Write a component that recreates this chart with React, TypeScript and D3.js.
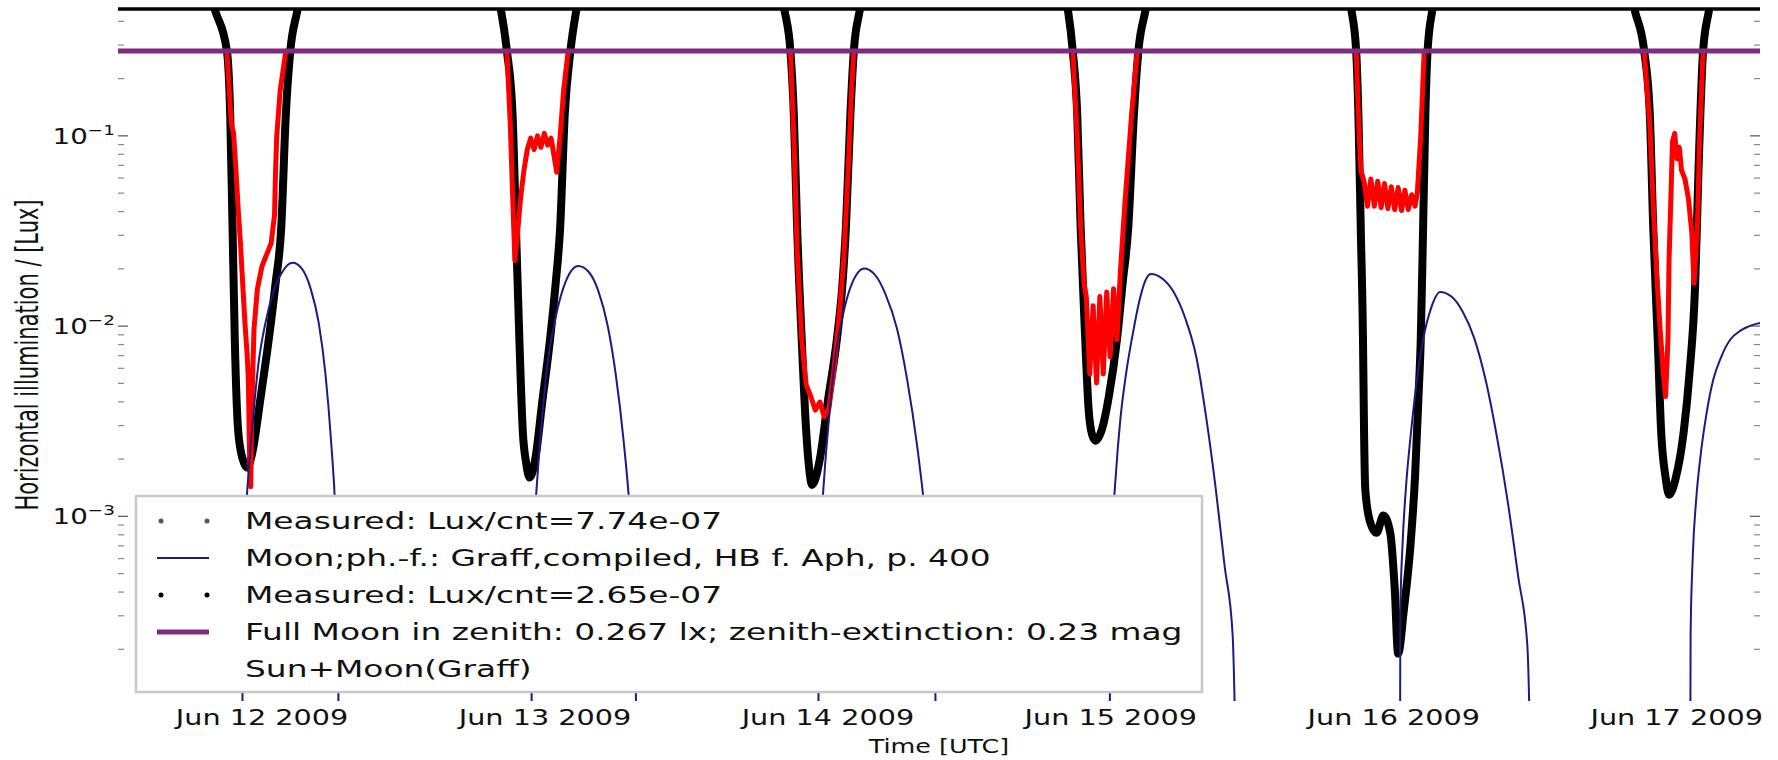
import React from 'react';
import * as d3 from 'd3';

// hours after 2009-06-12 00:00 UTC, horizontal illumination in lux
const T0 = Date.UTC(2009, 5, 12);

// black band: measured Lux/cnt=2.65e-07, one array per night
const blackNights = [
  [[-4.62, 0.6], [-3.95, 0.45], [-2.98, 0.28], [-2.7, 0.13], [-2.5, 0.033], [-2.31, 0.0085], [-2.02, 0.0028], [-1.64, 0.002], [-1.25, 0.0018], [-0.87, 0.0021], [-0.1, 0.0043], [0.57, 0.0085], [1.15, 0.0168], [1.63, 0.033], [2.02, 0.13], [2.4, 0.28], [2.98, 0.45], [3.36, 0.6]],
  [[19.81, 0.6], [20.29, 0.45], [20.77, 0.28], [21.25, 0.13], [21.54, 0.033], [21.83, 0.0085], [22.12, 0.0028], [22.41, 0.0019], [22.7, 0.0016], [23.18, 0.002], [23.75, 0.0039], [24.43, 0.0085], [24.91, 0.0168], [25.29, 0.033], [25.68, 0.13], [26.16, 0.28], [26.64, 0.45], [27.02, 0.6]],
  [[43.86, 0.6], [44.34, 0.45], [44.82, 0.28], [45.11, 0.13], [45.39, 0.033], [45.78, 0.0085], [46.16, 0.0028], [46.45, 0.0017], [46.65, 0.00146], [47.32, 0.002], [47.99, 0.004], [48.76, 0.0085], [49.24, 0.0168], [49.53, 0.033], [49.91, 0.13], [50.2, 0.28], [50.68, 0.45], [51.07, 0.6]],
  [[67.9, 0.6], [68.38, 0.45], [68.77, 0.28], [69.15, 0.13], [69.44, 0.033], [69.83, 0.0085], [70.11, 0.0037], [70.4, 0.0027], [70.69, 0.0025], [71.27, 0.0029], [71.84, 0.0043], [72.52, 0.0085], [73.0, 0.0168], [73.48, 0.033], [73.96, 0.13], [74.34, 0.28], [74.92, 0.45], [75.31, 0.6]],
  [[91.95, 0.6], [92.43, 0.45], [92.81, 0.28], [93.0, 0.13], [93.2, 0.033], [93.39, 0.0085], [93.48, 0.0028], [93.58, 0.0014], [93.96, 0.00095], [94.54, 0.00082], [95.12, 0.00101], [95.7, 0.00082], [96.08, 0.00042], [96.37, 0.00019], [96.85, 0.00032], [97.43, 0.00072], [97.81, 0.00164], [98.1, 0.0043], [98.29, 0.0085], [98.49, 0.033], [98.68, 0.13], [98.87, 0.28], [99.25, 0.45], [99.64, 0.6]],
  [[115.99, 0.6], [116.47, 0.45], [117.24, 0.28], [117.72, 0.13], [118.01, 0.033], [118.39, 0.0085], [118.68, 0.0028], [119.06, 0.0016], [119.35, 0.0013], [119.93, 0.0016], [120.6, 0.0028], [121.08, 0.0056], [121.57, 0.0168], [121.85, 0.066], [122.24, 0.28], [122.72, 0.45], [123.11, 0.6]],
];

// red: measured Lux/cnt=7.74e-07
const redNights = [
  [[-2.98, 0.279], [-2.6, 0.115], [-2.41, 0.103], [-2.21, 0.066], [-2.02, 0.041], [-1.83, 0.0272], [-1.64, 0.0168], [-1.45, 0.0104], [-1.25, 0.0069], [-1.16, 0.00525], [-1.06, 0.00215], [-0.96, 0.00143], [-0.87, 0.0037], [-0.68, 0.0097], [-0.39, 0.0157], [0.0, 0.0207], [0.38, 0.0237], [0.77, 0.0272], [1.06, 0.0383], [1.15, 0.066], [1.25, 0.1], [1.54, 0.173], [2.02, 0.279]],
  [[20.77, 0.279], [21.06, 0.115], [21.25, 0.0503], [21.45, 0.0221], [21.64, 0.0291], [21.93, 0.047], [22.22, 0.066], [22.5, 0.0848], [22.79, 0.0973], [23.08, 0.0848], [23.37, 0.1], [23.66, 0.0871], [23.95, 0.103], [24.23, 0.0895], [24.52, 0.0973], [24.81, 0.0759], [25.0, 0.0644], [25.29, 0.1], [25.58, 0.173], [25.97, 0.279]],
  [[44.82, 0.279], [45.11, 0.1], [45.39, 0.0254], [45.78, 0.0085], [46.16, 0.0049], [46.55, 0.00427], [46.93, 0.00362], [47.32, 0.00399], [47.7, 0.00333], [48.09, 0.0037], [48.47, 0.0056], [48.95, 0.0111], [49.34, 0.0221], [49.72, 0.066], [50.01, 0.173], [50.2, 0.279]],
  [[68.77, 0.279], [69.15, 0.1], [69.44, 0.0334], [69.73, 0.0168], [69.92, 0.0143], [70.21, 0.0056], [70.5, 0.0128], [70.79, 0.00503], [71.07, 0.0143], [71.36, 0.0056], [71.65, 0.0151], [71.94, 0.0069], [72.23, 0.0157], [72.52, 0.0085], [72.81, 0.0193], [73.19, 0.0439], [73.77, 0.131], [74.25, 0.279]],
  [[92.81, 0.279], [93.0, 0.131], [93.2, 0.066], [93.48, 0.0578], [93.77, 0.0427], [94.06, 0.0593], [94.35, 0.0427], [94.64, 0.0578], [94.93, 0.042], [95.21, 0.0562], [95.5, 0.0415], [95.79, 0.054], [96.08, 0.041], [96.37, 0.0535], [96.66, 0.0405], [96.94, 0.0518], [97.23, 0.041], [97.52, 0.049], [97.81, 0.0427], [98.0, 0.0503], [98.29, 0.1], [98.58, 0.279]],
  [[117.24, 0.279], [117.72, 0.115], [118.01, 0.0439], [118.3, 0.0193], [118.59, 0.00972], [118.87, 0.0056], [119.06, 0.00427], [119.26, 0.0085], [119.35, 0.0221], [119.55, 0.0578], [119.64, 0.0933], [119.83, 0.103], [120.03, 0.0759], [120.22, 0.0871], [120.41, 0.066], [120.7, 0.0593], [120.99, 0.047], [121.28, 0.0312], [121.47, 0.0168], [121.76, 0.0334], [121.95, 0.1], [122.24, 0.279]],
];

// navy: Moon, Graff phase function
const moonArcs = [
  [[-1.73, 1e-6], [-1.64, 3.2e-4], [-1.45, 8.2e-4], [-1.16, 1.64e-3], [-0.77, 3.24e-3], [-0.29, 6.44e-3], [0.29, 0.0104], [0.96, 0.0151], [1.73, 0.0193], [2.59, 0.0215], [3.36, 0.0201], [4.13, 0.0157], [4.81, 0.0104], [5.38, 0.0056], [5.86, 0.00247], [6.25, 9.5e-4], [6.44, 3.6e-4], [6.63, 1e-6]],
  [[22.79, 1e-6], [22.89, 3.2e-4], [23.08, 8.2e-4], [23.37, 1.64e-3], [23.75, 3.24e-3], [24.23, 6.44e-3], [24.81, 0.0104], [25.39, 0.0147], [26.06, 0.0188], [26.83, 0.0207], [27.7, 0.0193], [28.56, 0.0151], [29.33, 0.00998], [30.0, 0.0056], [30.68, 0.00247], [31.26, 9.5e-4], [31.64, 3.6e-4], [32.03, 1e-6]],
  [[47.13, 1e-6], [47.22, 3.2e-4], [47.41, 8.2e-4], [47.7, 1.64e-3], [48.09, 3.24e-3], [48.57, 6.44e-3], [49.14, 0.0104], [49.72, 0.0147], [50.39, 0.0185], [51.07, 0.0201], [51.93, 0.0188], [52.89, 0.0147], [53.86, 0.00972], [54.72, 0.00525], [55.59, 0.0023], [56.36, 8.8e-4], [56.93, 3.4e-4], [57.61, 1e-6]],
  [[71.84, 1e-6], [71.94, 3.2e-4], [72.13, 8.2e-4], [72.42, 1.64e-3], [72.81, 3.24e-3], [73.29, 0.0056], [73.86, 0.00908], [74.44, 0.0137], [74.92, 0.0173], [75.4, 0.0188], [76.36, 0.0178], [77.33, 0.0151], [78.29, 0.0111], [79.25, 0.0069], [80.11, 0.00324], [80.88, 0.00143], [81.65, 5.5e-4], [82.33, 2.4e-4], [83.0, 1e-6]],
  [[96.47, 1e-6], [96.56, 3.2e-4], [96.75, 7.2e-4], [97.04, 1.43e-3], [97.43, 2.64e-3], [97.91, 4.9e-3], [98.49, 0.0085], [99.16, 0.0124], [99.93, 0.0151], [100.89, 0.0143], [101.85, 0.0119], [102.81, 0.0087], [103.78, 0.00525], [104.74, 0.00264], [105.7, 1.16e-3], [106.56, 4.8e-4], [107.33, 2.1e-4], [108.01, 1e-6]],
  [[121.08, 1e-6], [121.18, 2.4e-4], [121.37, 6.3e-4], [121.66, 1.24e-3], [122.05, 0.00215], [122.53, 0.00347], [123.11, 0.00525], [123.78, 0.0069], [124.55, 0.0085], [125.41, 0.00946], [126.37, 0.0101], [127.43, 0.0105], [128.3, 0.0107]],
];

const fullMoonLux = 0.279;
const yMajor = [1e-1, 1e-2, 1e-3];
const legendLabels = [
  'Measured: Lux/cnt=7.74e-07',
  'Moon;ph.-f.: Graff,compiled, HB f. Aph, p. 400',
  'Measured: Lux/cnt=2.65e-07',
  'Full Moon in zenith: 0.267 lx; zenith-extinction: 0.23 mag',
  'Sun+Moon(Graff)',
];

const font = 'DejaVu Sans, sans-serif';
const SX = 1.32; // the picture is stretched sideways

export default function App() {
  const W = 1778, H = 760;
  const left = 118, right = 1760, top = 8, bottom = 701;

  const x = d3.scaleUtc()
    .domain([new Date(Date.UTC(2009, 5, 11, 11, 47)), new Date(Date.UTC(2009, 5, 17, 7, 4))])
    .range([left, right]);
  const y = d3.scaleLog().domain([1.07e-4, 0.47]).range([bottom, top]);

  const t = (h) => new Date(T0 + h * 3600e3);
  const straight = d3.line().x(d => x(t(d[0]))).y(d => y(d[1]));
  const smooth = d3.line().x(d => x(t(d[0]))).y(d => y(d[1])).curve(d3.curveMonotoneX);

  const minor = [];
  for (let e = -4; e <= -1; e++) {
    for (let m = 2; m <= 9; m++) {
      const v = m * Math.pow(10, e);
      if (v > 1.07e-4 && v < 0.47) minor.push(v);
    }
  }
  const days = d3.utcDay.range(new Date(T0), new Date(T0 + 6 * 86400e3));
  const fmt = d3.utcFormat('%b %d %Y');

  const rowY = [521, 558, 595, 632, 669];

  return (
    <svg width={W} height={H} style={{position: 'absolute', left: 0, top: 0, display: 'block', background: '#fff'}} fontFamily={font}>
      <defs>
        <clipPath id="plot">
          <rect x={left} y={top} width={right - left} height={bottom - top} />
        </clipPath>
      </defs>

      <g clipPath="url(#plot)" fill="none" strokeLinejoin="round" strokeLinecap="round">
        {blackNights.map((n, i) => (
          <path key={'b' + i} d={smooth(n)} stroke="#000" strokeWidth={8} />
        ))}
        {redNights.map((n, i) => (
          <path key={'r' + i} d={straight(n)} stroke="#f00" strokeWidth={5} />
        ))}
        {moonArcs.map((n, i) => (
          <path key={'m' + i} d={smooth(n)} stroke="#1b1b80" strokeWidth={2} />
        ))}
        <line x1={left} x2={right} y1={y(fullMoonLux)} y2={y(fullMoonLux)} stroke="#802a80" strokeWidth={5} />
      </g>

      {/* top frame */}
      <line x1={left} x2={right} y1={top + 1} y2={top + 1} stroke="#000" strokeWidth={3.5} />

      {/* y ticks */}
      {minor.map((v, i) => (
        <g key={'mt' + i} stroke="#888" strokeWidth={1.2}>
          <line x1={left} x2={left + 6} y1={y(v)} y2={y(v)} />
          <line x1={right} x2={right - 6} y1={y(v)} y2={y(v)} />
        </g>
      ))}
      {yMajor.map((v, i) => (
        <g key={'Mt' + i}>
          <line x1={left} x2={left + 10} y1={y(v)} y2={y(v)} stroke="#555" strokeWidth={1.2} />
          <line x1={right} x2={right - 10} y1={y(v)} y2={y(v)} stroke="#555" strokeWidth={1.2} />
          <text transform={`translate(115,${y(v) + 8}) scale(${SX},1)`} textAnchor="end" fontSize={21} fill="#111">
            10<tspan dy={-9} fontSize={14}>{'\u2212' + (-Math.round(Math.log10(v)))}</tspan>
          </text>
        </g>
      ))}

      {/* x tick labels */}
      {days.map((d, i) => (
        <text key={'xl' + i} transform={`translate(${x(d)},725) scale(1.4,1)`} textAnchor="middle" fontSize={20.5} fill="#111">
          {fmt(d)}
        </text>
      ))}

      <text transform={`translate(${(left + right) / 2},753) scale(1.27,1)`} textAnchor="middle" fontSize={20} fill="#111">Time [UTC]</text>
      <text transform={`translate(38,355) scale(1.55,1) rotate(-90)`} textAnchor="middle" fontSize={21} fill="#111">
        Horizontal illumination / [Lux]
      </text>

      {/* legend */}
      <rect x={136} y={496} width={1066} height={196} fill="#fff" stroke="#c8c8c8" strokeWidth={2.5} />
      <circle cx={161} cy={rowY[0]} r={2.5} fill="#555" />
      <circle cx={207} cy={rowY[0]} r={2.5} fill="#555" />
      <line x1={157} x2={209} y1={rowY[1]} y2={rowY[1]} stroke="#1b1b80" strokeWidth={2} />
      <circle cx={161} cy={rowY[2]} r={2.5} fill="#000" />
      <circle cx={207} cy={rowY[2]} r={2.5} fill="#000" />
      <line x1={157} x2={209} y1={rowY[3]} y2={rowY[3]} stroke="#802a80" strokeWidth={5} />
      {legendLabels.map((s, i) => (
        <text key={'lg' + i} transform={`translate(245,${rowY[i] + 8}) scale(1.46,1)`} fontSize={22.5} fill="#111">{s}</text>
      ))}
    </svg>
  );
}
